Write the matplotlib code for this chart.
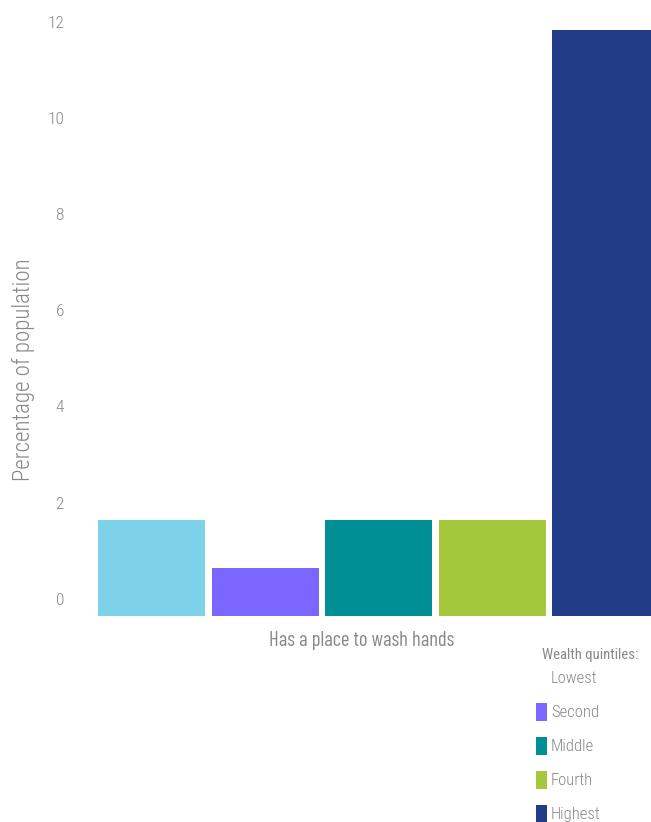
import matplotlib
matplotlib.use("Agg")
import matplotlib.pyplot as plt
from matplotlib.patches import Rectangle

# Data
category = "Has a place to wash hands"
quintiles = ["Lowest", "Second", "Middle", "Fourth", "Highest"]
values = [2.0, 1.0, 2.0, 2.0, 12.2]
colors = ["#7dd1e8", "#7b66ff", "#008f94", "#a3c83b", "#213c86"]
yticks = [0, 2, 4, 6, 8, 10, 12]

body = ["Roboto Condensed", "DejaVu Sans"]
tight = ["Barlow Condensed", "Roboto Condensed", "DejaVu Sans"]
plt.rcParams["font.family"] = body

grey = "#888888"
W, H = 651, 822
fig = plt.figure(figsize=(W / 100, H / 100), dpi=100)

# axes placed in pixel units
left, right, bottom_px = 98, 651, 616
ax = fig.add_axes([left / W, (H - bottom_px) / H, (right - left) / W, bottom_px / H])

pitch = 113.5
bw = 107 / pitch
xs = list(range(len(values)))
ax.bar(xs, values, width=bw, color=colors, linewidth=0)
ax.set_xlim(-bw / 2, -bw / 2 + (right - left) / pitch)
px_per_unit = 48
ax.set_ylim(0, bottom_px / px_per_unit)

for s in ax.spines.values():
    s.set_visible(False)
ax.set_xticks([])
ax.set_yticks([])

# y tick labels, sitting a little above their values
for t in yticks:
    y_fig = (H - (bottom_px - t * px_per_unit) + 16) / H
    fig.text(64 / W, y_fig, str(t), ha="right", va="center",
             fontsize=12.5, color=grey, fontweight="light")

fig.text(23 / W, (H - 370) / H, "Percentage of population", rotation=90,
         ha="center", va="center", fontsize=16.5, color=grey, fontweight="light")

fig.text(362 / W, (H - 640) / H, category, ha="center", va="center",
         fontsize=14.8, color=grey, family=tight)

# legend
fig.text(590 / W, (H - 655) / H, "Wealth quintiles:", ha="center", va="center",
         fontsize=10.5, color=grey)
y0, dy = 678, 34
for i, (q, c) in enumerate(zip(quintiles, colors)):
    yc = y0 + i * dy
    if i > 0:
        fig.patches.append(Rectangle((536 / W, (H - yc - 9) / H), 11 / W, 18 / H,
                                     transform=fig.transFigure, color=c, linewidth=0))
    fig.text(551 / W, (H - yc) / H, q, ha="left", va="center", fontsize=12,
             color=grey, fontweight="light")

fig.savefig("out.png", dpi=100)
